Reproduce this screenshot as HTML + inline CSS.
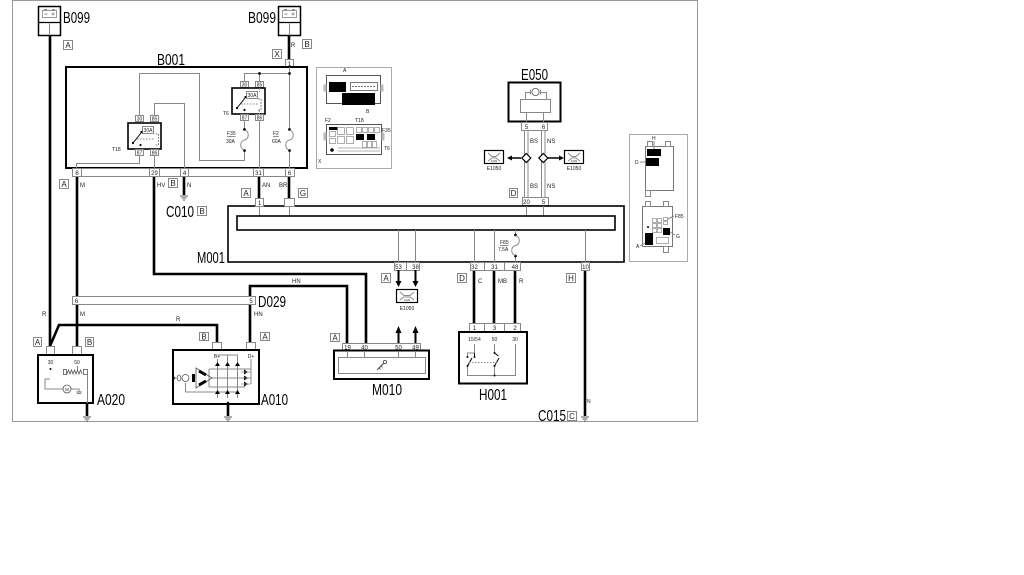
<!DOCTYPE html>
<html><head><meta charset="utf-8"><style>
html,body{margin:0;padding:0;background:#fff;}
svg{display:block;}
text{font-family:"Liberation Sans",sans-serif;fill:#222;}
.g{stroke:#888;stroke-width:1;fill:none}
.k{stroke:#000;stroke-width:2.6;fill:none}
.b{stroke:#000;stroke-width:2;fill:none}
.pb{fill:#fff;stroke:#888;stroke-width:1}
.s{font-size:6px}
.xs{font-size:5px}
.lt{font-size:8px}
.big{font-size:16px;fill:#000}
.d{fill:#000}
</style></head><body>
<svg width="1024" height="575" viewBox="0 0 1024 575" xmlns="http://www.w3.org/2000/svg">
<rect width="1024" height="575" fill="#fff"/>
<rect x="12.5" y="0.5" width="685" height="421" fill="none" stroke="#999"/>

<!-- ===== Thick wires ===== -->
<path class="k" d="M50 36V346"/>
<path class="k" d="M217 342V325H59L50 346"/>
<path class="k" d="M77 176V347"/>
<path class="k" d="M154 176V274H366V343"/>
<path class="k" d="M250 342V286H347V343"/>
<path class="k" d="M184 176V195"/>
<path class="k" d="M259 176V198"/>
<path class="k" d="M289 176V198"/>
<path class="k" d="M289 36V59"/>
<path class="k" d="M474 270V324M494 270V324M515 270V324"/>
<path class="k" d="M585 270V416"/>
<path class="k" d="M87 403V416M228 404V416"/>

<!-- grounds -->
<g stroke="#555" stroke-width="1">
<path d="M180 196h8M181.5 198h5M183 200h2"/>
<path d="M581 417h8M582.5 419h5M584 421h2"/>
<path d="M83 417h8M84.5 419h5M86 421h2"/>
<path d="M224 417h8M225.5 419h5M227 421h2"/>
</g>

<!-- ===== B099 left ===== -->
<rect x="38.5" y="6.5" width="22" height="29" fill="#fff" stroke="#000" stroke-width="1.5"/>
<path d="M38.5 22.5H60.5" stroke="#000" stroke-width="1.2"/>
<path class="g" d="M49.5 22.5V35.5"/>
<rect x="42.5" y="10.5" width="14" height="7" fill="none" stroke="#999"/>
<path class="g" d="M44 9.5h3M52 9.5h3M44.5 14h3M51.5 14h3M53 12.5v3"/>
<text x="63" y="23" class="big" textLength="27" lengthAdjust="spacingAndGlyphs">B099</text>
<rect class="pb" x="63.5" y="40.5" width="9" height="9"/><text x="68" y="48" class="lt" text-anchor="middle">A</text>

<!-- ===== B099 right ===== -->
<rect x="278.5" y="6.5" width="22" height="29" fill="#fff" stroke="#000" stroke-width="1.5"/>
<path d="M278.5 22.5H300.5" stroke="#000" stroke-width="1.2"/>
<path class="g" d="M289.5 22.5V35.5"/>
<rect x="282.5" y="10.5" width="14" height="7" fill="none" stroke="#999"/>
<path class="g" d="M284 9.5h3M292 9.5h3M284.5 14h3M291.5 14h3M293 12.5v3"/>
<text x="248" y="23" class="big" textLength="28" lengthAdjust="spacingAndGlyphs">B099</text>
<text x="293" y="47" class="s" text-anchor="middle">R</text>
<rect class="pb" x="302.5" y="39.5" width="9" height="9"/><text x="307" y="47" class="lt" text-anchor="middle">B</text>
<rect class="pb" x="272.5" y="49.5" width="9" height="9"/><text x="277" y="57" class="lt" text-anchor="middle">X</text>
<rect class="pb" x="285.5" y="59.5" width="8" height="8"/><text x="289.5" y="66" class="s" text-anchor="middle">1</text>

<!-- ===== B001 ===== -->
<text x="157" y="65" class="big" textLength="28" lengthAdjust="spacingAndGlyphs">B001</text>
<rect x="66" y="67" width="241" height="101" fill="#fff" stroke="#000" stroke-width="2"/>
<!-- internal wiring -->
<path class="g" d="M289.5 67V129M289.5 151V168"/>
<path class="g" d="M244.5 81V73.5H289.5M259.5 73.5V81"/>
<circle class="d" cx="259.5" cy="73.5" r="1.4"/><circle class="d" cx="289.5" cy="73.5" r="1.4"/>
<path class="g" d="M244.5 121V129M244.5 151V160.5H199.5V73.5H139.5V115"/>
<path class="g" d="M259.5 121V168"/>
<path class="g" d="M154.5 115V103.5H184.5V168"/>
<path class="g" d="M139.5 156V163.5H76.5V168"/>
<path class="g" d="M154.5 156V168"/>
<!-- fuses -->
<g>
<circle class="d" cx="289.5" cy="129.5" r="1.4"/><circle class="d" cx="289.5" cy="150.5" r="1.4"/>
<path class="g" d="M289.5 130C294.5 131 294.5 139 289.5 140C284.5 141 284.5 149 289.5 150"/>
<circle class="d" cx="244.5" cy="129.5" r="1.4"/><circle class="d" cx="244.5" cy="150.5" r="1.4"/>
<path class="g" d="M244.5 130C249.5 131 249.5 139 244.5 140C239.5 141 239.5 149 244.5 150"/>
</g>
<text x="273" y="135" class="xs" text-decoration="underline">F2</text><text x="272" y="143" class="xs">60A</text>
<text x="227" y="135" class="xs" text-decoration="underline">F35</text><text x="226" y="143" class="xs">30A</text>
<!-- relay T6 -->
<rect class="pb" x="240.5" y="81.5" width="8" height="6"/><text x="244.5" y="86.7" class="xs" text-anchor="middle">30</text>
<rect class="pb" x="255.5" y="81.5" width="8" height="6"/><text x="259.5" y="86.7" class="xs" text-anchor="middle">85</text>
<rect x="232" y="88" width="33" height="26" fill="#fff" stroke="#000" stroke-width="1.6"/>
<rect class="pb" x="246.5" y="91.5" width="11" height="7"/><text x="252" y="97" class="xs" text-anchor="middle">30A</text>
<path class="g" d="M259.5 88V92M258 99h3v11h-3M259.5 110V114" stroke-dasharray="2 1"/>
<path d="M237 108L245 98" stroke="#000" stroke-width="1"/>
<circle class="d" cx="237" cy="108" r="1.1"/><circle class="d" cx="245.5" cy="97" r="1.1"/><circle class="d" cx="244.5" cy="110" r="1.1"/>
<path class="g" d="M241 104H258" stroke-dasharray="1.5 1.5"/>
<rect class="pb" x="240.5" y="114.5" width="8" height="6"/><text x="244.5" y="119.7" class="xs" text-anchor="middle">87</text>
<rect class="pb" x="255.5" y="114.5" width="8" height="6"/><text x="259.5" y="119.7" class="xs" text-anchor="middle">86</text>
<text x="223" y="115" class="xs">T6</text>
<!-- relay T18 -->
<rect class="pb" x="135.5" y="115.5" width="8" height="6"/><text x="139.5" y="120.7" class="xs" text-anchor="middle">30</text>
<rect class="pb" x="150.5" y="115.5" width="8" height="6"/><text x="154.5" y="120.7" class="xs" text-anchor="middle">85</text>
<rect x="128" y="123" width="33" height="26" fill="#fff" stroke="#000" stroke-width="1.6"/>
<rect class="pb" x="142.5" y="126.5" width="11" height="7"/><text x="148" y="132" class="xs" text-anchor="middle">30A</text>
<path class="g" d="M155.5 134h3v11h-3" stroke-dasharray="2 1"/>
<path d="M133 143L141 133" stroke="#000" stroke-width="1"/>
<circle class="d" cx="133" cy="143" r="1.1"/><circle class="d" cx="141.5" cy="132" r="1.1"/><circle class="d" cx="140.5" cy="145" r="1.1"/>
<path class="g" d="M137 139H154" stroke-dasharray="1.5 1.5"/>
<rect class="pb" x="135.5" y="149.5" width="8" height="6"/><text x="139.5" y="154.7" class="xs" text-anchor="middle">87</text>
<rect class="pb" x="150.5" y="149.5" width="8" height="6"/><text x="154.5" y="154.7" class="xs" text-anchor="middle">86</text>
<text x="112" y="151" class="xs">T18</text>
<!-- bottom strip -->
<rect class="pb" x="72.5" y="168.5" width="222" height="8"/>
<path class="g" d="M81.5 168.5v8M149.5 168.5v8M159.5 168.5v8M180.5 168.5v8M188.5 168.5v8M253.5 168.5v8M263.5 168.5v8M285.5 168.5v8"/>
<text x="77" y="175" class="s" text-anchor="middle">6</text>
<text x="154.5" y="175" class="s" text-anchor="middle">29</text>
<text x="184.5" y="175" class="s" text-anchor="middle">4</text>
<text x="258.5" y="175" class="s" text-anchor="middle">31</text>
<text x="289.5" y="175" class="s" text-anchor="middle">6</text>
<!-- labels below B001 -->
<rect class="pb" x="59.5" y="179.5" width="9" height="9"/><text x="64" y="187" class="lt" text-anchor="middle">A</text>
<text x="80" y="187" class="s">M</text>
<text x="157" y="187" class="s">HV</text>
<rect class="pb" x="168.5" y="178.5" width="9" height="9"/><text x="173" y="186" class="lt" text-anchor="middle">B</text>
<text x="187" y="187" class="s">N</text>
<text x="262" y="187" class="s">AN</text>
<text x="279" y="187" class="s">BR</text>
<rect class="pb" x="241.5" y="188.5" width="9" height="9"/><text x="246" y="196" class="lt" text-anchor="middle">A</text>
<rect class="pb" x="298.5" y="188.5" width="9" height="9"/><text x="303" y="196" class="lt" text-anchor="middle">G</text>
<text x="166" y="217" class="big" textLength="28" lengthAdjust="spacingAndGlyphs">C010</text>
<rect class="pb" x="197.5" y="206.5" width="9" height="9"/><text x="202" y="214" class="lt" text-anchor="middle">B</text>

<!-- ===== Thumbnail panel 1 ===== -->
<rect x="316.5" y="67.5" width="75" height="101" fill="#fff" stroke="#aaa"/>
<rect x="326.5" y="75.5" width="54" height="28" fill="#fff" stroke="#555"/>
<rect x="323.5" y="84.5" width="3" height="7" fill="#bbb"/><rect x="380.5" y="84.5" width="3" height="7" fill="#bbb"/>
<rect x="329" y="82" width="17" height="10" fill="#000"/>
<rect x="350.5" y="82.5" width="27" height="8" fill="none" stroke="#777"/>
<path d="M352 86.5h24" stroke="#777" stroke-dasharray="2 1"/>
<rect x="342" y="93" width="33" height="12" fill="#000"/>
<text x="343" y="72" class="xs">A</text>
<text x="366" y="113" class="xs">B</text>
<rect x="326.5" y="124.5" width="55" height="30" fill="#fff" stroke="#555"/>
<rect x="323.5" y="132.5" width="3" height="8" fill="#bbb"/><rect x="381.5" y="132.5" width="3" height="8" fill="#bbb"/>
<rect x="329" y="127" width="9" height="3" fill="#000"/>
<g fill="none" stroke="#999" stroke-width="0.8">
<rect x="329.5" y="131.5" width="6" height="5"/><rect x="329.5" y="138.5" width="6" height="5"/>
<rect x="337.5" y="127.5" width="7" height="7"/><rect x="337.5" y="136.5" width="7" height="7"/>
<rect x="346.5" y="127.5" width="7" height="7"/><rect x="346.5" y="136.5" width="7" height="7"/>
<rect x="356.5" y="127.5" width="5" height="5"/><rect x="362.5" y="127.5" width="5" height="5"/><rect x="368.5" y="127.5" width="5" height="5"/><rect x="374.5" y="127.5" width="5" height="5"/>
<rect x="362.5" y="141.5" width="4" height="6"/><rect x="367.5" y="141.5" width="4" height="6"/><rect x="372.5" y="141.5" width="4" height="6"/>
<path d="M338 148h42M338 151h42"/>
</g>
<rect x="356" y="134" width="8" height="6" fill="#000"/><rect x="367" y="134" width="8" height="6" fill="#000"/>
<circle class="d" cx="332" cy="150" r="1.8"/>
<text x="325" y="122" class="xs">F2</text>
<text x="355" y="122" class="xs">T18</text>
<text x="382" y="132" class="xs">F35</text>
<text x="384" y="150" class="xs">T6</text>
<text x="318" y="163" class="xs">X</text>

<!-- ===== E050 ===== -->
<text x="521" y="80" class="big" textLength="27" lengthAdjust="spacingAndGlyphs">E050</text>
<rect x="508.5" y="82.5" width="52" height="39" fill="#fff" stroke="#000" stroke-width="2"/>
<circle cx="535.5" cy="92" r="3.6" fill="none" stroke="#555" stroke-width="0.8"/>
<path class="g" d="M525.5 99V92.5H530M541 92.5H546.5V99"/>
<path d="M531 89.5q-1.5 2.5 0 5M540 89.5q1.5 2.5 0 5" fill="none" stroke="#555" stroke-width="0.7"/>
<rect class="pb" x="520.5" y="99.5" width="30" height="13"/>
<path class="g" d="M526.5 112.5V122M543.5 112.5V122"/>
<rect class="pb" x="521.5" y="122.5" width="26" height="8"/>
<text x="526.5" y="129" class="s" text-anchor="middle">5</text>
<text x="543.5" y="129" class="s" text-anchor="middle">6</text>
<path class="g" d="M524.5 130.5V197M528 130.5V197M541.5 130.5V197M545 130.5V197"/>
<path d="M521 158H511M548 158H560" stroke="#000" stroke-width="1.5"/>
<polygon points="507,158 512,155.5 512,160.5" fill="#000"/>
<polygon points="564,158 559,155.5 559,160.5" fill="#000"/>
<polygon points="526.3,153.5 530.8,158 526.3,162.5 521.8,158" fill="#fff" stroke="#000" stroke-width="1.2"/>
<polygon points="543.3,153.5 547.8,158 543.3,162.5 538.8,158" fill="#fff" stroke="#000" stroke-width="1.2"/>
<text x="530" y="143" class="s">BS</text><text x="547" y="143" class="s">NS</text>
<text x="530" y="188" class="s">BS</text><text x="547" y="188" class="s">NS</text>
<rect class="pb" x="509.5" y="188.5" width="8" height="9"/><text x="513.5" y="196" class="lt" text-anchor="middle">D</text>
<!-- E1050 icons -->
<g>
<rect x="484.5" y="150.5" width="19" height="13" fill="#fff" stroke="#000" stroke-width="1.2"/>
<path class="g" d="M488 153l4 3.5h4l4-3.5M488 161l4-3h4l4 3" stroke-width="0.8"/>
<text x="494" y="162" font-size="3" text-anchor="middle">CAN</text>
<text x="494" y="170" class="xs" text-anchor="middle">E1050</text>
<rect x="564.5" y="150.5" width="19" height="13" fill="#fff" stroke="#000" stroke-width="1.2"/>
<path class="g" d="M568 153l4 3.5h4l4-3.5M568 161l4-3h4l4 3" stroke-width="0.8"/>
<text x="574" y="162" font-size="3" text-anchor="middle">CAN</text>
<text x="574" y="170" class="xs" text-anchor="middle">E1050</text>
</g>
<rect class="pb" x="522.5" y="197.5" width="26" height="8"/>
<text x="526.5" y="204" class="s" text-anchor="middle">20</text>
<text x="543.5" y="204" class="s" text-anchor="middle">5</text>

<!-- ===== Thumbnail panel 2 ===== -->
<rect x="629.5" y="134.5" width="58" height="127" fill="#fff" stroke="#aaa"/>
<rect x="645.5" y="146.5" width="28" height="44" fill="#fff" stroke="#777"/>
<rect class="pb" x="647.5" y="141.5" width="5" height="5"/><rect class="pb" x="665.5" y="141.5" width="5" height="5"/>
<rect class="pb" x="645.5" y="190.5" width="5" height="6"/>
<rect x="647" y="149" width="14" height="7" fill="#000"/>
<rect x="646" y="158" width="13" height="8" fill="#000"/>
<path class="g" d="M654 149V141M640 162H646"/>
<text x="652" y="140" class="xs">H</text>
<text x="635" y="164" class="xs">D</text>
<rect x="642.5" y="206.5" width="30" height="40" fill="#fff" stroke="#777"/>
<rect class="pb" x="645.5" y="201.5" width="5" height="5"/><rect class="pb" x="663.5" y="201.5" width="5" height="5"/>
<rect class="pb" x="663.5" y="246.5" width="5" height="6"/>
<g fill="none" stroke="#999" stroke-width="0.8">
<rect x="652.5" y="218.5" width="4" height="4"/><rect x="652.5" y="223.5" width="4" height="4"/><rect x="652.5" y="228.5" width="4" height="4"/>
<rect x="657.5" y="218.5" width="4" height="4"/><rect x="657.5" y="223.5" width="4" height="4"/><rect x="657.5" y="228.5" width="4" height="4"/>
<rect x="663.5" y="217.5" width="4" height="3"/><rect x="663.5" y="221.5" width="4" height="3"/>
<rect x="656.5" y="237.5" width="12" height="6"/>
</g>
<rect x="645" y="233" width="8" height="12" fill="#000"/>
<rect x="663" y="228" width="7" height="7" fill="#000"/>
<circle class="d" cx="648" cy="227" r="1"/>
<path class="g" d="M668 219L674 216M670 232L675 235M640 246L645 243" stroke-width="0.7"/>
<text x="675" y="218" class="xs">F85</text>
<text x="676" y="238" class="xs">G</text>
<text x="636" y="248" class="xs">A</text>

<!-- ===== M001 ===== -->
<text x="197" y="263" class="big" textLength="28" lengthAdjust="spacingAndGlyphs">M001</text>
<rect x="228" y="206" width="396" height="56" fill="#fff" stroke="#000" stroke-width="1.6"/>
<rect class="pb" x="255.5" y="198.5" width="8" height="8"/><text x="259.5" y="205" class="s" text-anchor="middle">1</text>
<rect class="pb" x="284.5" y="198.5" width="10" height="8"/>
<path class="g" d="M259.5 206V216M289.5 206V216M526.5 206V216M543.5 206V216"/>
<rect x="237" y="216" width="378" height="14" fill="#fff" stroke="#000" stroke-width="1.6"/>
<path class="g" d="M398.5 230V263M415.5 230V263M474.5 230V263M494.5 230V263M585.5 230V263M515.5 230V234M515.5 257V263"/>
<circle class="d" cx="515.5" cy="235" r="1.4"/><circle class="d" cx="515.5" cy="256" r="1.4"/>
<path class="g" d="M515.5 235.5C520.5 236.5 520.5 244.5 515.5 245.5C510.5 246.5 510.5 254.5 515.5 255.5"/>
<text x="500" y="244" class="xs" text-decoration="underline">F85</text>
<text x="498" y="251" class="xs">7,5A</text>
<!-- bottom pin strips -->
<rect class="pb" x="394.5" y="262.5" width="25" height="8"/>
<path class="g" d="M406.5 262.5v8"/>
<text x="398.5" y="269" class="s" text-anchor="middle">53</text><text x="415.5" y="269" class="s" text-anchor="middle">38</text>
<rect class="pb" x="470.5" y="262.5" width="50" height="8"/>
<path class="g" d="M484.5 262.5v8M504.5 262.5v8"/>
<text x="474.5" y="269" class="s" text-anchor="middle">32</text><text x="494.5" y="269" class="s" text-anchor="middle">31</text><text x="515" y="269" class="s" text-anchor="middle">48</text>
<rect class="pb" x="581.5" y="262.5" width="8" height="8"/>
<text x="585.5" y="269" class="s" text-anchor="middle">10</text>
<rect class="pb" x="381.5" y="273.5" width="9" height="9"/><text x="386" y="281" class="lt" text-anchor="middle">A</text>
<rect class="pb" x="457.5" y="273.5" width="9" height="9"/><text x="462" y="281" class="lt" text-anchor="middle">D</text>
<rect class="pb" x="566.5" y="273.5" width="9" height="9"/><text x="571" y="281" class="lt" text-anchor="middle">H</text>
<text x="478" y="283" class="s">C</text><text x="498" y="283" class="s">MB</text><text x="519" y="283" class="s">R</text>
<text x="587" y="403" class="xs">N</text>
<!-- arrows / E1050 -->
<path d="M398.5 270V282M415.5 270V282M398.5 343V332M415.5 343V332" stroke="#000" stroke-width="2"/>
<polygon points="395.5,281 401.5,281 398.5,287" fill="#000"/>
<polygon points="412.5,281 418.5,281 415.5,287" fill="#000"/>
<polygon points="395.5,333 401.5,333 398.5,326" fill="#000"/>
<polygon points="412.5,333 418.5,333 415.5,326" fill="#000"/>
<rect x="396.5" y="289.5" width="21" height="13" fill="#fff" stroke="#000" stroke-width="1.2"/>
<path class="g" d="M400 292l4 3.5h6l4-3.5M400 300l4-3h6l4 3" stroke-width="0.8"/>
<text x="407" y="301" font-size="3" text-anchor="middle">CAN</text>
<text x="407" y="310" class="xs" text-anchor="middle">E1050</text>

<!-- ===== M010 ===== -->
<rect class="pb" x="330.5" y="333.5" width="9" height="8"/><text x="335" y="340.5" class="lt" text-anchor="middle">A</text>
<rect class="pb" x="342.5" y="343.5" width="78" height="7"/>
<text x="347.5" y="349.5" class="s" text-anchor="middle">19</text><text x="364.5" y="349.5" class="s" text-anchor="middle">40</text>
<text x="398.5" y="349.5" class="s" text-anchor="middle">50</text><text x="415.5" y="349.5" class="s" text-anchor="middle">49</text>
<rect x="334" y="350.5" width="95" height="28.5" fill="#fff" stroke="#000" stroke-width="2"/>
<rect class="pb" x="338.5" y="357.5" width="87" height="16"/>
<path class="g" d="M347.5 351V357.5M364.5 351V357.5M398.5 351V357.5M415.5 351V357.5"/>
<path d="M377 370L384 363" stroke="#444" stroke-width="1"/>
<circle cx="385" cy="362" r="1.6" fill="none" stroke="#444" stroke-width="0.8"/>
<path d="M379 368l1.5 1.5M381 366l1.5 1.5" stroke="#444" stroke-width="0.8"/>
<text x="372" y="395" class="big" textLength="30" lengthAdjust="spacingAndGlyphs">M010</text>

<!-- ===== H001 ===== -->
<rect class="pb" x="469.5" y="323.5" width="51" height="8"/>
<path class="g" d="M484.5 323.5v8M504.5 323.5v8"/>
<text x="474.5" y="330" class="s" text-anchor="middle">1</text><text x="494.5" y="330" class="s" text-anchor="middle">3</text><text x="515" y="330" class="s" text-anchor="middle">2</text>
<rect x="459" y="332" width="68" height="51.5" fill="#fff" stroke="#000" stroke-width="2"/>
<text x="474.5" y="341" class="xs" text-anchor="middle">15/54</text>
<text x="494.5" y="341" class="xs" text-anchor="middle">50</text>
<text x="515" y="341" class="xs" text-anchor="middle">30</text>
<path class="g" d="M474.5 344V353H467.5V357M494.5 344V353M515.5 344V375.5H467.5V366M494.5 366V375.5"/>
<path d="M467.5 366L472 358M494.5 366L499 358M474.5 353v4M494.5 353l4 3" stroke="#000" stroke-width="1"/>
<path class="g" d="M469 362.5H499" stroke-dasharray="1.5 1.5"/>
<circle class="d" cx="467.5" cy="357" r="1"/><circle class="d" cx="474.5" cy="357" r="1"/>
<circle class="d" cx="467.5" cy="366" r="1"/><circle class="d" cx="494.5" cy="366" r="1"/>
<circle class="d" cx="494.5" cy="353" r="1"/><circle class="d" cx="494.5" cy="375.5" r="1"/>
<text x="479" y="400" class="big" textLength="28" lengthAdjust="spacingAndGlyphs">H001</text>

<!-- ===== C015 ===== -->
<text x="538" y="421" class="big" textLength="28" lengthAdjust="spacingAndGlyphs">C015</text>
<rect class="pb" x="567.5" y="411.5" width="9" height="9"/><text x="572" y="419" class="lt" text-anchor="middle">C</text>

<!-- ===== D029 ===== -->
<rect class="pb" x="72.5" y="296.5" width="183" height="8"/>
<text x="76.5" y="303" class="s" text-anchor="middle">6</text>
<text x="251" y="303" class="s" text-anchor="middle">5</text>
<text x="258" y="307" class="big" textLength="28" lengthAdjust="spacingAndGlyphs">D029</text>
<text x="42" y="316" class="s">R</text>
<text x="80" y="316" class="s">M</text>
<text x="176" y="321" class="s">R</text>
<text x="292" y="283" class="s">HN</text>
<text x="254" y="316" class="s">HN</text>

<!-- ===== A020 ===== -->
<rect class="pb" x="33.5" y="337.5" width="8" height="9"/><text x="37.5" y="345" class="lt" text-anchor="middle">A</text>
<rect class="pb" x="85.5" y="337.5" width="8" height="9"/><text x="89.5" y="345" class="lt" text-anchor="middle">B</text>
<rect class="pb" x="46.5" y="346.5" width="8" height="8"/>
<rect class="pb" x="72.5" y="346.5" width="9" height="8"/>
<rect x="38" y="355" width="55" height="48" fill="#fff" stroke="#000" stroke-width="2"/>
<text x="50.5" y="364" class="xs" text-anchor="middle">30</text>
<text x="77" y="364" class="xs" text-anchor="middle">50</text>
<circle class="d" cx="50.5" cy="369" r="1"/>
<rect x="63.5" y="369.5" width="3" height="5" fill="none" stroke="#555" stroke-width="0.8"/>
<path d="M67 374l1.5-4 1.5 4 1.5-4 1.5 4 1.5-4 1.5 4 1.5-4 1.5 4 1.5-4 1.5 4" fill="none" stroke="#555" stroke-width="0.8"/>
<rect x="83.5" y="369.5" width="4" height="5" fill="none" stroke="#555" stroke-width="0.8"/>
<path class="g" d="M77.5 366V370M87.5 374.5V403M45 379H50M45 379V389H63M71 389H79V392"/>
<circle cx="67" cy="389" r="4" fill="#fff" stroke="#555" stroke-width="0.8"/>
<text x="67" y="391" font-size="4.5" text-anchor="middle">M</text>
<path d="M76 392h6M77 393.5h4" stroke="#555" stroke-width="0.8"/>
<text x="97" y="405" class="big" textLength="28" lengthAdjust="spacingAndGlyphs">A020</text>

<!-- ===== A010 ===== -->
<rect class="pb" x="199.5" y="332.5" width="9" height="8"/><text x="204" y="339.5" class="lt" text-anchor="middle">B</text>
<rect class="pb" x="260.5" y="332.5" width="9" height="8"/><text x="265" y="339.5" class="lt" text-anchor="middle">A</text>
<rect class="pb" x="212.5" y="342.5" width="9" height="8"/>
<rect class="pb" x="246.5" y="342.5" width="9" height="8"/>
<rect x="173" y="350" width="86" height="54" fill="#fff" stroke="#000" stroke-width="2"/>
<text x="217" y="358" class="xs" text-anchor="middle">B+</text>
<text x="251" y="358" class="xs" text-anchor="middle">D+</text>
<path class="g" d="M217.5 359V398M227.5 355H237.5V398M217.5 355H227.5V398M209 369H251M209 387H245M212 378H251M251 359V384M185.5 392H237.5M185.5 383V392M209 369V387" stroke-width="0.8"/>
<g fill="#000">
<polygon points="215,366 220,366 217.5,362"/><polygon points="225,366 230,366 227.5,362"/><polygon points="235,366 240,366 237.5,362"/>
<polygon points="215,394 220,394 217.5,390"/><polygon points="225,394 230,394 227.5,390"/><polygon points="235,394 240,394 237.5,390"/>
<polygon points="244,369.5 244,374.5 248,372"/><polygon points="244,375.5 244,380.5 248,378"/><polygon points="244,381.5 244,386.5 248,384"/>
</g>
<path d="M241 372H251M241 378H251M241 384H251" stroke="#888" stroke-width="0.8"/>
<path d="M196 368L212 378L196 388Z" fill="none" stroke="#555" stroke-width="0.8"/>
<path d="M199 371L206 375M199 385L206 381" stroke="#000" stroke-width="3"/>
<rect x="192" y="374" width="3" height="8" fill="#000"/>
<circle cx="185.5" cy="378" r="3.5" fill="#fff" stroke="#555" stroke-width="0.8"/>
<ellipse cx="179" cy="378" rx="1.8" ry="3" fill="none" stroke="#555" stroke-width="0.8"/>
<circle class="d" cx="174" cy="378" r="1.3"/>
<path class="g" d="M174 378H177" stroke-width="0.8"/>
<circle class="d" cx="228" cy="403" r="1.2"/>
<text x="261" y="405" class="big" textLength="27" lengthAdjust="spacingAndGlyphs">A010</text>

</svg>
</body></html>
